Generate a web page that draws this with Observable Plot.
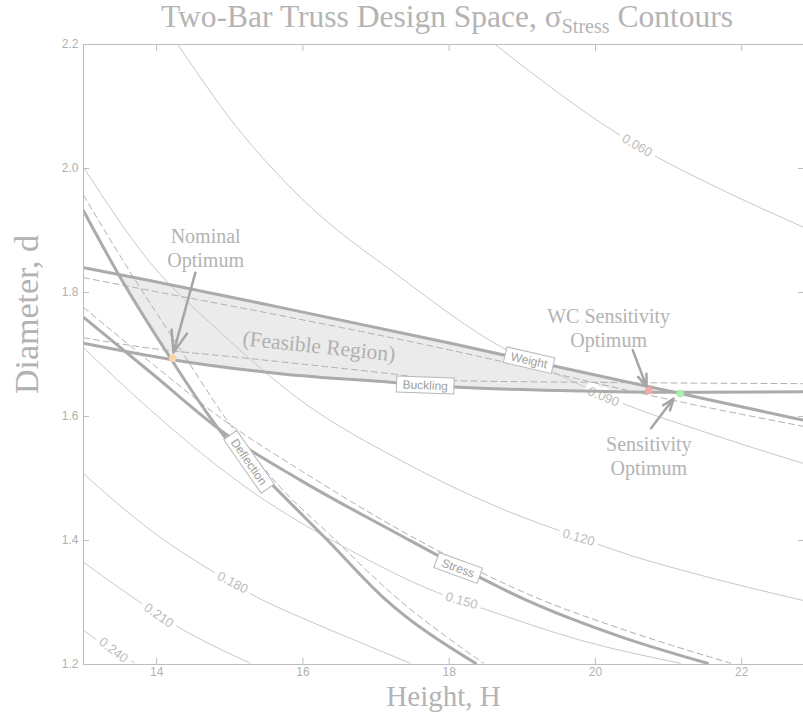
<!DOCTYPE html>
<html><head><meta charset="utf-8">
<script src="https://cdn.jsdelivr.net/npm/d3@7"></script>
<script src="https://cdn.jsdelivr.net/npm/@observablehq/plot@0.6"></script>
<style>
body{margin:0;background:#fff;}
#title{width:720px;margin-left:87px;height:36px;text-align:center;font-family:"Liberation Serif",serif;font-size:31.5px;line-height:34px;color:#b4b4b4;white-space:nowrap;}
#title sub{font-size:20px;vertical-align:-6px;line-height:0;}
</style></head><body>
<div id="title">Two-Bar Truss Design Space, σ<sub>Stress</sub> Contours</div>
<div id="chart"></div>
<script>
// ---- data: [Height H, Diameter d] ----
const xTicks = [14, 16, 18, 20, 22];
const yTicks = [1.2, 1.4, 1.6, 1.8, 2.0, 2.2];

const contour060 = [[18.63,2.2],[19.39,2.131],[20.07,2.074],[20.85,2.018],[21.67,1.969],[22.85,1.905]];
const contour090 = [[14.29,2.2],[15.08,2.069],[15.97,1.953],[17.34,1.824],[18.70,1.713],[19.43,1.671],[20.44,1.618],[21.44,1.577],[22.85,1.524]];
const contour120 = [[13,2.002],[13.92,1.847],[14.87,1.736],[15.97,1.626],[17.34,1.529],[18.70,1.452],[19.77,1.405],[20.48,1.376],[21.44,1.344],[22.85,1.303]];
const contour150 = [[13,1.711],[13.92,1.610],[15.28,1.481],[16.65,1.384],[17.84,1.316],[18.47,1.290],[19.80,1.239],[21.16,1.202]];
const contour180 = [[13,1.508],[13.41,1.465],[14.05,1.405],[14.74,1.352],[15.33,1.311],[15.97,1.276],[16.65,1.242],[17.47,1.202]];
const contour210 = [[13,1.365],[13.74,1.303],[14.29,1.261],[15.28,1.202]];
const contour240 = [[13,1.255],[13.19,1.239],[13.69,1.203]];
const contourLevels = ["0.060","0.090","0.120","0.150","0.180","0.210","0.240"];
const contourLabelH = [20.57, 20.11, 19.77, 18.17, 15.04, 14.03, 13.41];
const contourLabelD = [2.037, 1.632, 1.405, 1.303, 1.332, 1.279, 1.223];
const contourLabelAngle = [30, 22, 16, 16, 28, 35, 38];

const weightCurve = [[13,1.840],[13.92,1.819],[15.69,1.776],[18.02,1.718],[19.45,1.681],[21.16,1.637],[22.85,1.594]];
const bucklingCurve = [[13,1.718],[14.19,1.692],[15.69,1.669],[17.23,1.655],[18.13,1.647],[19.52,1.642],[21.16,1.639],[22.85,1.640]];
const deflectionCurve = [[13,1.932],[13.47,1.831],[14.19,1.694],[14.92,1.569],[15.63,1.484],[16.34,1.400],[17.10,1.308],[18.36,1.202]];
const stressCurve = [[13,1.760],[13.92,1.671],[14.92,1.574],[15.97,1.497],[17.34,1.408],[18.13,1.358],[19.07,1.303],[20.34,1.245],[21.53,1.202]];

const weightDashed = [[13,1.824],[13.92,1.803],[15.69,1.763],[18.02,1.707],[19.45,1.669],[20.75,1.634],[22.85,1.584]];
const bucklingDashed = [[13,1.727],[13.92,1.710],[15.15,1.695],[17.20,1.669],[18.02,1.658],[20.07,1.655],[22.85,1.653]];
const deflectionDashed = [[13,1.957],[13.58,1.844],[14.33,1.707],[15.01,1.586],[15.69,1.486],[16.38,1.408],[17.20,1.316],[18.47,1.202]];
const stressDashed = [[13,1.776],[13.92,1.687],[14.92,1.594],[15.97,1.513],[17.84,1.384],[19.29,1.303],[20.34,1.258],[21.85,1.202]];

const feasibleRegion = [[13.49,1.827],[13.92,1.819],[15.69,1.776],[18.02,1.718],[19.45,1.681],[21.09,1.639],[19.52,1.642],[18.13,1.647],[17.23,1.655],[15.69,1.669],[14.19,1.692],[13.78,1.771]];

const constraintNames = ["Weight","Buckling","Deflection","Stress"];
const constraintLabelH = [19.10, 17.68, 15.27, 18.13];
const constraintLabelD = [1.690, 1.650, 1.526, 1.355];
const constraintLabelAngle = [13, 2, 55, 20];

const optimaNames = ["Nominal", "WC Sensitivity", "Sensitivity"];
const optimaH = [14.22, 20.73, 21.16];
const optimaD = [1.694, 1.642, 1.637];
const optimaColors = ["#f7d5a4", "#f3a9a9", "#a9f1a9"];

const annotationText = ["Nominal\nOptimum", "WC Sensitivity\nOptimum", "Sensitivity\nOptimum"];
const annotationH = [14.67, 20.18, 20.73];
const annotationD = [1.873, 1.744, 1.537];
const arrowFromH = [14.53, 20.51, 20.76];
const arrowFromD = [1.832, 1.707, 1.581];
const arrowToH = [14.23, 20.70, 21.07];
const arrowToD = [1.703, 1.648, 1.629];

const regionLabel = [{text: "(Feasible Region)", H: 16.22, d: 1.713}];

// ---- tables for the library ----
const toRows = (pts, key) => pts.map(([H, d]) => ({H, d, key}));
const contours = [contour060, contour090, contour120, contour150, contour180, contour210, contour240]
  .flatMap((c, i) => toRows(c, contourLevels[i]));
const contourLabels = contourLevels.map((t, i) => ({text: t, H: contourLabelH[i], d: contourLabelD[i], a: contourLabelAngle[i]}));
const constraints = [weightCurve, bucklingCurve, deflectionCurve, stressCurve].flatMap((c, i) => toRows(c, constraintNames[i]));
const dashed = [weightDashed, bucklingDashed, deflectionDashed, stressDashed].flatMap((c, i) => toRows(c, constraintNames[i]));
const region = feasibleRegion.map(([H, d]) => ({H, d}));
const boxLabels = constraintNames.map((t, i) => ({text: t, H: constraintLabelH[i], d: constraintLabelD[i], a: constraintLabelAngle[i]}));
const optima = optimaNames.map((n, i) => ({n, H: optimaH[i], d: optimaD[i], c: optimaColors[i]}));
const notes = annotationText.map((t, i) => ({text: t, H: annotationH[i], d: annotationD[i]}));
const arrows = arrowFromH.map((h, i) => ({H1: h, d1: arrowFromD[i], H2: arrowToH[i], d2: arrowToD[i]}));

function boxedLabels(data) {
  return function (index, scales) {
    const ns = "http://www.w3.org/2000/svg";
    const g = document.createElementNS(ns, "g");
    const ctx = document.createElement("canvas").getContext("2d");
    ctx.font = "12px 'Liberation Sans'";
    for (const d of data) {
      const cx = scales.x(d.H), cy = scales.y(d.d);
      const w = ctx.measureText(d.text).width + 12, h = 16;
      const gg = document.createElementNS(ns, "g");
      gg.setAttribute("transform", `translate(${cx},${cy}) rotate(${d.a})`);
      const r = document.createElementNS(ns, "rect");
      r.setAttribute("x", -w / 2); r.setAttribute("y", -h / 2);
      r.setAttribute("width", w); r.setAttribute("height", h);
      r.setAttribute("fill", "#fff"); r.setAttribute("stroke", "#b8b8b8"); r.setAttribute("stroke-width", 1);
      const t = document.createElementNS(ns, "text");
      t.setAttribute("text-anchor", "middle"); t.setAttribute("dy", "0.36em");
      t.setAttribute("fill", "#a0a0a0"); t.setAttribute("font-size", 12);
      t.setAttribute("font-family", "Liberation Sans, Arial, sans-serif");
      t.textContent = d.text;
      gg.append(r, t); g.append(gg);
    }
    return g;
  };
}

const serif = "Liberation Serif, serif";
const chart = Plot.plot({
  width: 803, height: 677,
  marginTop: 8, marginBottom: 49, marginLeft: 83, marginRight: 0,
  x: {domain: [13, 22.845]},
  y: {domain: [1.2, 2.2]},
  style: {fontFamily: "Liberation Sans, Arial, sans-serif", fontSize: "12px", color: "#b0b0b0", background: "#fff"},
  marks: [
    Plot.line(region, {x: "H", y: "d", fill: "#ebebeb", stroke: "none"}),
    Plot.line(contours, {x: "H", y: "d", z: "key", stroke: "#c8c8c8", strokeWidth: 1, curve: "monotone-x", clip: true}),
    Plot.text(contourLabels, {x: "H", y: "d", text: "text", rotate: "a", fill: "#bdbdbd", stroke: "#fff", strokeWidth: 9, paintOrder: "stroke", fontSize: 13}),
    Plot.line(dashed, {x: "H", y: "d", z: "key", stroke: "#b0b0b0", strokeWidth: 1, strokeDasharray: "6,4", curve: "monotone-x", clip: true}),
    Plot.line(constraints, {x: "H", y: "d", z: "key", stroke: "#ababab", strokeWidth: 3, curve: "monotone-x", clip: true}),
    boxedLabels(boxLabels),
    Plot.text(regionLabel, {x: "H", y: "d", text: "text", rotate: 6, fontFamily: serif, fontSize: 21.5, fill: "#b0b0b0"}),
    Plot.arrow(arrows, {x1: "H1", y1: "d1", x2: "H2", y2: "d2", stroke: "#a6a6a6", strokeWidth: 2.5, headLength: 14, headAngle: 40}),
    Plot.dot(optima, {x: "H", y: "d", fill: "c", r: 3.8}),
    Plot.text(notes, {x: "H", y: "d", text: "text", fontFamily: serif, fontSize: 20, lineHeight: 1.2, fill: "#b3b3b3"}),
    Plot.frame({stroke: "#bdbdbd"}),
    Plot.axisX({ticks: xTicks, tickSize: -6, tickPadding: 9, label: null, stroke: "#bdbdbd"}),
    Plot.axisX({ticks: xTicks, anchor: "top", tickSize: -6, tickFormat: () => "", label: null, stroke: "#bdbdbd"}),
    Plot.axisY({ticks: yTicks, tickSize: -6, tickPadding: 11, tickFormat: d3.format(".1f"), label: null, stroke: "#bdbdbd"}),
    Plot.axisY({ticks: yTicks, anchor: "right", tickSize: -6, tickFormat: () => "", label: null, stroke: "#bdbdbd"}),
    Plot.text(["Height, H"], {text: d => d, frameAnchor: "bottom", lineAnchor: "middle", dy: 32, fontFamily: serif, fontSize: 29, fill: "#b3b3b3"}),
    Plot.text(["Diameter, d"], {text: d => d, frameAnchor: "left", textAnchor: "middle", lineAnchor: "middle", rotate: -90, dx: -56, dy: -40, fontFamily: serif, fontSize: 34, fill: "#b3b3b3"})
  ]
});
document.getElementById("chart").append(chart);
</script></body></html>
